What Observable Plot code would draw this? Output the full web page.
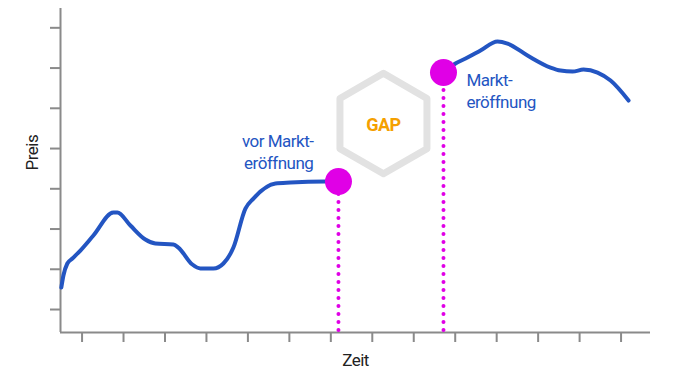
<!DOCTYPE html>
<html><head><meta charset="utf-8">
<script src="https://cdn.jsdelivr.net/npm/d3@7"></script>
<script src="https://cdn.jsdelivr.net/npm/@observablehq/plot@0.6"></script>
<style>body{margin:0;background:#fff;font-family:Roboto,sans-serif}
#chart svg text{letter-spacing:-0.5px}</style>
</head><body><div id="chart"></div>
<script>
// Tick positions (unlabelled)
const xTicks = [1,2,3,4,5,6,7,8,9,10,11,12,13,14];
const yTicks = [0,1,2,3,4,5,6,7];
const xDomain = [0.48, 14.71];
const yDomain = [-0.571, 7.48];

// Price before market opening
const beforeX = [0.50,0.55,0.645,0.766,0.959,1.273,1.755,1.852,2.166,2.527,2.768,3.203,3.323,3.661,3.854,4.168,4.409,4.650,4.940,5.133,5.664,6.026,6.870,7.184];
const beforeY = [0.547,0.845,1.143,1.267,1.466,1.839,2.410,2.410,2.087,1.739,1.640,1.615,1.540,1.118,1.019,1.019,1.143,1.540,2.509,2.758,3.130,3.155,3.180,3.180];

// Price after market opening
const afterX = [9.717,10.006,10.296,10.610,11.020,11.261,11.744,12.299,12.540,12.830,13.095,13.433,13.747,14.181];
const afterY = [5.888,6.112,6.261,6.435,6.658,6.609,6.311,6.012,5.938,5.913,5.963,5.888,5.689,5.193];

// Markers: pre-market close and market opening
const markerX = [7.184, 9.717];
const markerY = [3.18, 5.888];

// Annotations
const preLabel = ["vor Markt-\neröffnung"];
const preLabelX = [6.58];
const preLabelY = [3.933];
const openLabel = ["Markt-\neröffnung"];
const openLabelX = [10.272];
const openLabelY = [5.45];
const gapLabel = ["GAP"];
const gapX = [8.269];
const gapY = [4.621];
const gapTextY = [4.571];

const blue = "#2355c2";
const magenta = "#e000e6";
const axisGray = "#8a8a8a";

const chart = Plot.plot({
  width: 700,
  height: 378,
  marginLeft: 60,
  marginRight: 50,
  marginTop: 8,
  marginBottom: 46,
  style: {fontFamily: "Roboto, sans-serif", background: "#fff"},
  x: {domain: xDomain},
  y: {domain: yDomain},
  marks: [
    Plot.dot(gapX, {x: d => d, y: gapY, symbol: "hexagon", r: 43.5, stroke: "#e2e2e2", strokeWidth: 7, fill: "none", strokeLinejoin: "round"}),
    Plot.text(gapLabel, {x: gapX, y: gapTextY, text: d => d, fill: "#f5a000", fontSize: 18, fontWeight: "bold"}),
    Plot.axisY(yTicks, {tickSize: 10, stroke: axisGray, strokeWidth: 2, fill: "none"}),
    Plot.axisX(xTicks, {tickSize: 10, stroke: axisGray, strokeWidth: 2, fill: "none"}),
    Plot.ruleX([xDomain[0]], {stroke: axisGray, strokeWidth: 2}),
    Plot.ruleY([yDomain[0]], {stroke: axisGray, strokeWidth: 2}),
    Plot.ruleX(markerX, {x: d => d, y1: -0.52, y2: markerY, stroke: magenta, strokeWidth: 4, strokeDasharray: "0 8", strokeLinecap: "round"}),
    Plot.line(beforeX, {x: d => d, y: beforeY, curve: "monotone-x", stroke: blue, strokeWidth: 4}),
    Plot.line(afterX, {x: d => d, y: afterY, curve: "monotone-x", stroke: blue, strokeWidth: 4}),
    Plot.dot(markerX, {x: d => d, y: markerY, r: 13.5, fill: magenta}),
    Plot.text(preLabel, {x: preLabelX, y: preLabelY, text: d => d, textAnchor: "end", fill: blue, fontSize: 17, lineHeight: 1.3}),
    Plot.text(openLabel, {x: openLabelX, y: openLabelY, text: d => d, textAnchor: "start", fill: blue, fontSize: 17, lineHeight: 1.25}),
    Plot.text(["Preis"], {frameAnchor: "left", dx: -28, rotate: -90, fill: "#222", fontSize: 17}),
    Plot.text(["Zeit"], {frameAnchor: "bottom", dy: 33, fill: "#222", fontSize: 17})
  ]
});
document.getElementById("chart").appendChild(chart);
</script>
</body></html>
